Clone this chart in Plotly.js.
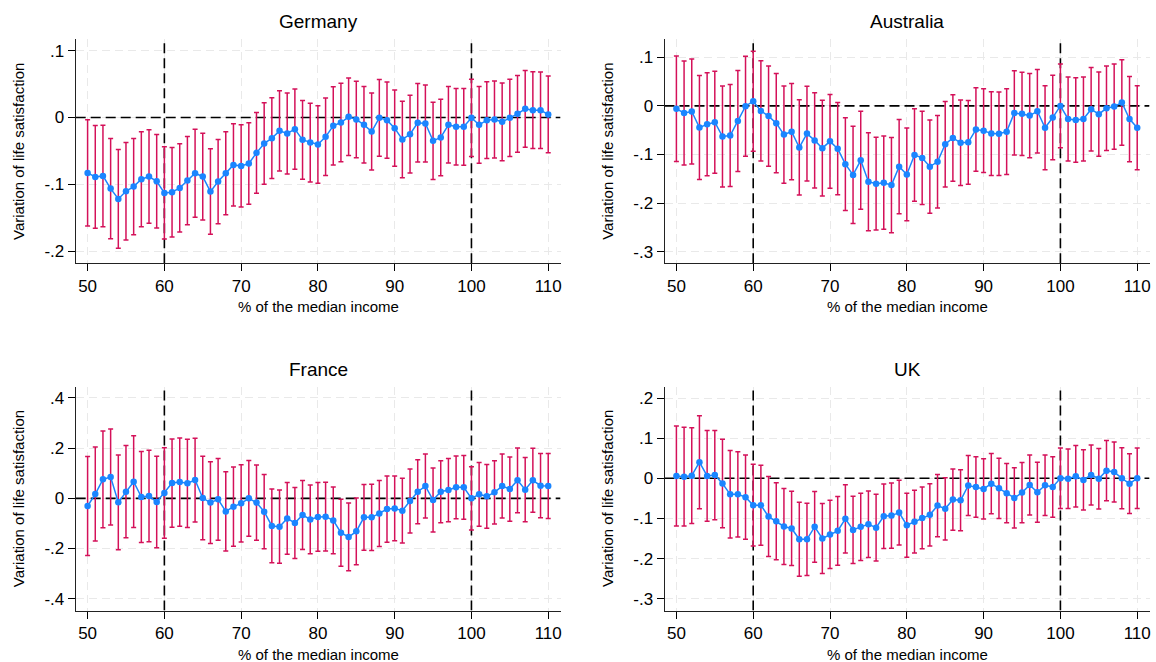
<!DOCTYPE html>
<html>
<head>
<meta charset="utf-8">
<script src="https://cdn.plot.ly/plotly-3.0.1.min.js"></script>
<style>
  html, body { margin: 0; padding: 0; background: #ffffff; }
  #chart { width: 1156px; height: 662px; }
</style>
</head>
<body>
<div id="chart"></div>
<script>
// ---- Data ----
const income = [];
for (let v = 50; v <= 110; v++) income.push(v);

const germanyMean = [-0.083,-0.089,-0.0875,-0.1065,-0.122,-0.1105,-0.1035,-0.0925,-0.0885,-0.0955,
  -0.113,-0.112,-0.1055,-0.0945,-0.0835,-0.0885,-0.111,-0.096,-0.0835,-0.071,
  -0.0725,-0.069,-0.053,-0.039,-0.031,-0.020,-0.024,-0.0175,-0.0335,-0.0375,
  -0.0405,-0.029,-0.0125,-0.0075,0.001,-0.003,-0.011,-0.021,-0.0005,-0.004,
  -0.016,-0.033,-0.025,-0.008,-0.009,-0.035,-0.030,-0.011,-0.014,-0.014,
  -0.0005,-0.011,-0.004,-0.003,-0.0065,-0.0005,0.0055,0.013,0.011,0.011,0.0045];
const germanyCI = [0.0795,0.077,0.076,0.075,0.074,0.073,0.072,0.071,0.070,0.070,
  0.069,0.067,0.066,0.066,0.066,0.065,0.064,0.063,0.062,0.0615,
  0.0615,0.061,0.0605,0.061,0.0605,0.060,0.0605,0.060,0.059,0.059,
  0.058,0.058,0.0585,0.0588,0.058,0.0573,0.0573,0.0578,0.0575,0.057,
  0.057,0.0573,0.0583,0.0588,0.0578,0.0578,0.0573,0.0573,0.0573,0.0575,
  0.0578,0.0575,0.0575,0.0575,0.0583,0.0578,0.0575,0.0575,0.0575,0.0573,0.0575];

const australiaMean = [-0.006,-0.0144,-0.0116,-0.0445,-0.038,-0.0336,-0.063,-0.061,-0.031,-0.0007,
  0.0096,-0.0103,-0.021,-0.0356,-0.059,-0.053,-0.0856,-0.057,-0.071,-0.087,
  -0.073,-0.088,-0.120,-0.142,-0.112,-0.156,-0.160,-0.158,-0.163,-0.125,
  -0.141,-0.101,-0.107,-0.125,-0.115,-0.079,-0.066,-0.076,-0.075,-0.0486,
  -0.051,-0.057,-0.0575,-0.053,-0.0144,-0.0164,-0.0199,-0.011,-0.045,-0.024,
  0.000,-0.027,-0.029,-0.027,-0.007,-0.017,-0.005,-0.0014,0.007,-0.027,-0.045];
const australiaCI = [0.1086,0.107,0.108,0.107,0.106,0.105,0.104,0.105,0.104,0.103,
  0.103,0.103,0.103,0.102,0.100,0.099,0.098,0.0976,0.098,0.0986,
  0.0966,0.095,0.0955,0.100,0.1007,0.1007,0.0955,0.0959,0.098,0.097,
  0.0955,0.095,0.096,0.096,0.095,0.088,0.089,0.088,0.086,0.086,
  0.086,0.086,0.086,0.088,0.0866,0.0856,0.0866,0.086,0.0866,0.087,
  0.086,0.0866,0.087,0.0866,0.086,0.0866,0.087,0.0877,0.088,0.0877,0.0866];

const franceMean = [-0.0306,0.0173,0.0757,0.085,-0.016,0.0266,0.0664,0.0053,0.0093,-0.0146,
  0.0213,0.061,0.065,0.060,0.073,0.0013,-0.017,-0.004,-0.052,-0.033,
  -0.020,0.000,-0.017,-0.053,-0.110,-0.113,-0.080,-0.098,-0.0664,-0.084,
  -0.074,-0.073,-0.088,-0.137,-0.154,-0.1316,-0.0757,-0.0757,-0.060,-0.0425,
  -0.040,-0.049,-0.0106,0.0266,0.049,-0.0066,0.0266,0.033,0.044,0.044,
  0.000,0.016,0.008,0.024,0.049,0.037,0.072,0.0346,0.072,0.0505,0.049];
const franceCI = [0.197,0.187,0.193,0.191,0.189,0.184,0.183,0.181,0.182,0.182,
  0.180,0.176,0.176,0.176,0.167,0.166,0.163,0.163,0.158,0.158,
  0.1535,0.151,0.150,0.148,0.147,0.146,0.143,0.1415,0.1375,0.137,
  0.137,0.137,0.133,0.1335,0.135,0.133,0.131,0.132,0.1316,0.132,
  0.129,0.129,0.128,0.1276,0.1276,0.1276,0.1236,0.126,0.125,0.127,
  0.126,0.127,0.127,0.126,0.1276,0.128,0.129,0.128,0.1276,0.128,0.1296];

const ukMean = [0.0058,0.004,0.0066,0.040,0.006,0.008,-0.013,-0.040,-0.040,-0.047,
  -0.067,-0.067,-0.0954,-0.107,-0.120,-0.125,-0.152,-0.152,-0.121,-0.150,
  -0.140,-0.131,-0.101,-0.1286,-0.121,-0.1145,-0.123,-0.0946,-0.093,-0.0855,
  -0.117,-0.108,-0.0988,-0.091,-0.068,-0.076,-0.053,-0.055,-0.018,-0.0216,
  -0.0266,-0.0133,-0.025,-0.037,-0.049,-0.0357,-0.0166,-0.035,-0.0174,-0.0216,
  0.000,-0.001,0.005,-0.004,0.0083,-0.001,0.019,0.0158,0.000,-0.0133,0.000];
const ukCI = [0.1245,0.123,0.1195,0.116,0.113,0.111,0.110,0.109,0.106,0.105,
  0.1017,0.0996,0.0996,0.0959,0.0946,0.0925,0.092,0.090,0.088,0.0875,
  0.085,0.0855,0.085,0.0838,0.0838,0.083,0.083,0.0805,0.081,0.0805,
  0.0797,0.0784,0.077,0.0776,0.0776,0.0776,0.0763,0.076,0.075,0.0755,
  0.075,0.075,0.075,0.074,0.075,0.075,0.0747,0.0747,0.0755,0.0755,
  0.0755,0.074,0.0768,0.075,0.0747,0.0755,0.075,0.0747,0.0759,0.0743,0.0755];

const panelTitles = ["Germany", "Australia", "France", "UK"];
const xTickVals = [50, 60, 70, 80, 90, 100, 110];
const xTickText = ["50", "60", "70", "80", "90", "100", "110"];
const germanyTickVals = [-0.2, -0.1, 0, 0.1];
const germanyTickText = ["-.2", "-.1", "0", ".1"];
const australiaTickVals = [-0.3, -0.2, -0.1, 0, 0.1];
const australiaTickText = ["-.3", "-.2", "-.1", "0", ".1"];
const franceTickVals = [-0.4, -0.2, 0, 0.2, 0.4];
const franceTickText = ["-.4", "-.2", "0", ".2", ".4"];
const ukTickVals = [-0.3, -0.2, -0.1, 0, 0.1, 0.2];
const ukTickText = ["-.3", "-.2", "-.1", "0", ".1", ".2"];
const refLinesX = [60, 100];
const refLineY = 0;
const xAxisLabel = "% of the median income";
const yAxisLabel = "Variation of life satisfaction";

// ---- Styling / layout ----
const FONT = "'Liberation Sans', Arial, Helvetica, sans-serif";
const BLUE = "#1a85ff";
const RED = "#d41159";
const W = 1156, H = 662;
const XRANGE = [48.45, 111.6];

const panels = [
  { mean: germanyMean, ci: germanyCI, tv: germanyTickVals, tt: germanyTickText,
    xpx: [75.7, 560.5], ypx: [39.3, 263.3], yr: [-0.2184, 0.1171] },
  { mean: australiaMean, ci: australiaCI, tv: australiaTickVals, tt: australiaTickText,
    xpx: [664.5, 1149.5], ypx: [39.3, 263.3], yr: [-0.3239, 0.137] },
  { mean: franceMean, ci: franceCI, tv: franceTickVals, tt: franceTickText,
    xpx: [75.7, 560.5], ypx: [386.5, 610.5], yr: [-0.447, 0.4458] },
  { mean: ukMean, ci: ukCI, tv: ukTickVals, tt: ukTickText,
    xpx: [664.5, 1149.5], ypx: [386.5, 610.5], yr: [-0.3294, 0.2287] }
];

const data = [];
const layout = {
  width: W, height: H,
  margin: { l: 0, r: 0, t: 0, b: 0 },
  paper_bgcolor: "#ffffff",
  plot_bgcolor: "#ffffff",
  showlegend: false,
  font: { family: FONT, color: "#000000" },
  annotations: []
};

const refLineStyle = { color: "#000000", width: 1.6, dash: "10px,5px" };

panels.forEach((p, i) => {
  const n = i + 1;
  const xa = n === 1 ? "x" : "x" + n;
  const ya = n === 1 ? "y" : "y" + n;
  const xKey = n === 1 ? "xaxis" : "xaxis" + n;
  const yKey = n === 1 ? "yaxis" : "yaxis" + n;

  // reference lines (drawn first: above gridlines, below data)
  refLinesX.forEach(v => {
    data.push({
      type: "scatter", mode: "lines", x: [v, v], y: p.yr,
      xaxis: xa, yaxis: ya, line: refLineStyle, hoverinfo: "skip", cliponaxis: true
    });
  });
  data.push({
    type: "scatter", mode: "lines", x: XRANGE, y: [refLineY, refLineY],
    xaxis: xa, yaxis: ya, line: refLineStyle, hoverinfo: "skip", cliponaxis: true
  });

  // error bars (below the line and markers)
  data.push({
    type: "scatter", mode: "markers", x: income, y: p.mean,
    xaxis: xa, yaxis: ya,
    marker: { size: 1, opacity: 0, color: RED },
    error_y: { type: "data", array: p.ci, visible: true, color: RED, thickness: 1.5, width: 2.5 },
    hoverinfo: "skip"
  });
  // point estimates
  data.push({
    type: "scatter", mode: "lines+markers", x: income, y: p.mean,
    xaxis: xa, yaxis: ya,
    line: { color: BLUE, width: 1.5 },
    marker: { color: BLUE, size: 6.5 }
  });

  layout[xKey] = {
    domain: [p.xpx[0] / W, p.xpx[1] / W],
    anchor: ya,
    range: XRANGE,
    tickvals: xTickVals, ticktext: xTickText,
    ticks: "outside", ticklen: 7, tickwidth: 1, tickcolor: "#000000",
    tickfont: { family: FONT, size: 17, color: "#000000" },
    showline: true, linecolor: "#222222", linewidth: 1,
    showgrid: true, gridcolor: "#e9e9e9", gridwidth: 1, griddash: "8px,5px",
    zeroline: false, fixedrange: true
  };
  layout[yKey] = {
    domain: [1 - p.ypx[1] / H, 1 - p.ypx[0] / H],
    anchor: xa,
    range: p.yr,
    tickvals: p.tv, ticktext: p.tt,
    ticks: "outside", ticklen: 7, tickwidth: 1, tickcolor: "#000000",
    tickfont: { family: FONT, size: 17, color: "#000000" },
    showline: true, linecolor: "#222222", linewidth: 1,
    showgrid: true, gridcolor: "#e9e9e9", gridwidth: 1, griddash: "8px,5px",
    zeroline: false, fixedrange: true
  };

  // panel title
  layout.annotations.push({
    text: panelTitles[i], xref: xa + " domain", yref: ya + " domain",
    x: 0.5, y: 1, xanchor: "center", yanchor: "middle", yshift: 17.5,
    showarrow: false, font: { family: FONT, size: 19, color: "#000000" }
  });
  // x-axis title
  layout.annotations.push({
    text: xAxisLabel, xref: xa + " domain", yref: ya + " domain",
    x: 0.5, y: 0, xanchor: "center", yanchor: "middle", yshift: -43.5,
    showarrow: false, font: { family: FONT, size: 15, color: "#000000" }
  });
  // y-axis title
  layout.annotations.push({
    text: yAxisLabel, xref: xa + " domain", yref: ya + " domain",
    x: 0, y: 0.5, xanchor: "center", yanchor: "middle", xshift: -57, textangle: -90,
    showarrow: false, font: { family: FONT, size: 15, color: "#000000" }
  });
});

Plotly.newPlot("chart", data, layout, { staticPlot: true, displayModeBar: false });
</script>
</body>
</html>
